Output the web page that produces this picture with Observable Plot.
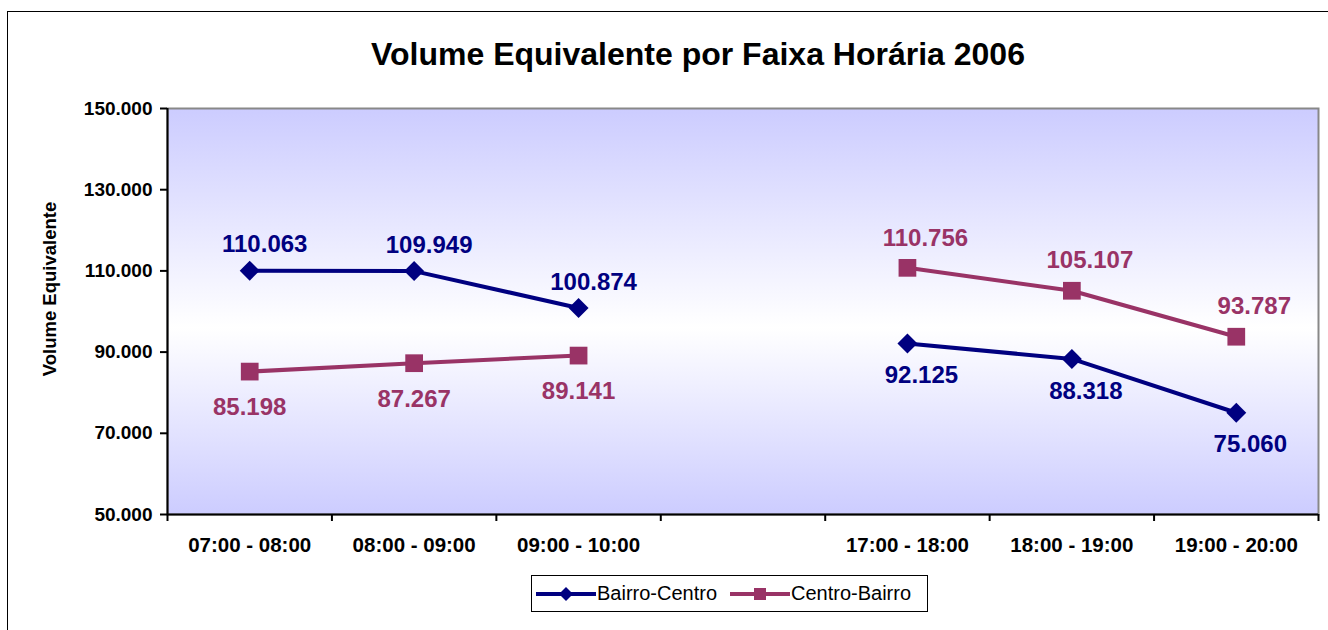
<!DOCTYPE html>
<html>
<head>
<meta charset="utf-8">
<script src="https://cdn.jsdelivr.net/npm/d3@7"></script>
<script src="https://cdn.jsdelivr.net/npm/@observablehq/plot@0.6"></script>
<style>
  html, body { margin: 0; padding: 0; background: #fff; }
  #wrap { position: relative; width: 1328px; height: 630px; overflow: hidden; font-family: Arial, "Liberation Sans", sans-serif; }
  #border { position: absolute; left: 7px; top: 11px; width: 3000px; height: 3000px; border-left: 1.5px solid #000; border-top: 1.5px solid #000; }
  #title { position: absolute; left: 0; top: 38px; width: 1396px; text-align: center; font-size: 32px; line-height: 32px; font-weight: bold; color: #000; }
  #ytitle { position: absolute; left: 50px; top: 289px; transform: translate(-50%, -50%) rotate(-90deg); white-space: nowrap; font-size: 18.5px; line-height: 18px; font-weight: bold; color: #000; }
  #chart { position: absolute; left: 0; top: 0; }
  #legend { position: absolute; left: 531px; top: 575px; width: 395px; height: 35px; border: 1.5px solid #000; background: #fff; box-sizing: content-box; }
  .item { position: absolute; top: 0; height: 35px; display: flex; align-items: center; font-size: 20px; color: #000; }
  .item svg { margin-right: 1px; }
</style>
</head>
<body>
<div id="wrap">
  <div id="border"></div>
  <div id="chart"></div>
  <div id="title">Volume Equivalente por Faixa Horária 2006</div>
  <div id="ytitle">Volume Equivalente</div>
  <div id="legend"></div>
</div>
<script>
// ---- data ----
const categories = ["07:00 - 08:00", "08:00 - 09:00", "09:00 - 10:00", "", "17:00 - 18:00", "18:00 - 19:00", "19:00 - 20:00"];
const seriesNames = ["Bairro-Centro", "Centro-Bairro"];
const bairroCentro = [110063, 109949, 100874, null, 92125, 88318, 75060];
const centroBairro = [85198, 87267, 89141, null, 110756, 105107, 93787];
const yTicks = [50000, 70000, 90000, 110000, 130000, 150000];

// ---- styles ----
const colors = {"Bairro-Centro": "#000080", "Centro-Bairro": "#993366"};
const loc = d3.formatLocale({decimal: ",", thousands: ".", grouping: [3], currency: ["", ""]});
const fmt = loc.format(",.0f");

const idx = categories.map((c, i) => i);
const rowsBC = idx.map(i => ({i, series: "Bairro-Centro", value: bairroCentro[i]}));
const rowsCB = idx.map(i => ({i, series: "Centro-Bairro", value: centroBairro[i]}));
const valid = r => r.value != null;
const morning = i => i < 3;

// label placement: BC above in morning, below in afternoon; CB opposite
const bcAbove = rowsBC.filter(r => valid(r) && morning(r.i));
const bcBelow = rowsBC.filter(r => valid(r) && !morning(r.i));
const cbBelow = rowsCB.filter(r => valid(r) && morning(r.i));
const cbAbove = rowsCB.filter(r => valid(r) && !morning(r.i));

const boundaries = d3.range(categories.length + 1).map(k => k - 0.5);
const labelTicks = idx.filter(i => categories[i] !== "");

const labelOpts = {x: "i", y: "value", text: d => fmt(d.value), fontSize: 24, fontWeight: "bold"};

const plot = Plot.plot({
  width: 1328,
  height: 630,
  marginLeft: 167,
  marginRight: 10,
  marginTop: 108,
  marginBottom: 116,
  style: {fontFamily: "Arial, 'Liberation Sans', sans-serif", fontWeight: "bold", fontSize: "18px", color: "#000", background: "transparent"},
  x: {type: "linear", domain: [-0.5, categories.length - 0.5]},
  y: {domain: [50000, 150000]},
  marks: [
    Plot.frame({fill: "url(#bgGrad)", stroke: "#888888", strokeWidth: 2}),
    Plot.ruleX([-0.5], {stroke: "#000", strokeWidth: 2}),
    Plot.ruleY([50000], {stroke: "#000", strokeWidth: 2}),
    Plot.axisY({ticks: yTicks, tickFormat: fmt, tickSize: 7, tickPadding: 8, fontSize: 19, strokeWidth: 2, label: null, fill: "#000"}),
    Plot.axisX({ticks: boundaries, tickFormat: () => "", tickSize: 7, strokeWidth: 2, label: null}),
    Plot.axisX({ticks: labelTicks, tickFormat: i => categories[i], tickSize: 0, tickPadding: 23, fontSize: 20.5, label: null, fill: "#000"}),
    Plot.line(rowsBC, {x: "i", y: "value", stroke: colors["Bairro-Centro"], strokeWidth: 4}),
    Plot.line(rowsCB, {x: "i", y: "value", stroke: colors["Centro-Bairro"], strokeWidth: 4}),
    Plot.dot(rowsBC.filter(valid), {x: "i", y: "value", symbol: "diamond2", r: 9, fill: colors["Bairro-Centro"], stroke: "none"}),
    Plot.dot(rowsCB.filter(valid), {x: "i", y: "value", symbol: "square", r: 10, fill: colors["Centro-Bairro"], stroke: "none"}),
    Plot.text(bcAbove, {...labelOpts, fill: colors["Bairro-Centro"], dx: 15, dy: -26}),
    Plot.text(bcBelow, {...labelOpts, fill: colors["Bairro-Centro"], dx: 14, dy: 32}),
    Plot.text(cbBelow, {...labelOpts, fill: colors["Centro-Bairro"], dx: 0, dy: 36}),
    Plot.text(cbAbove, {...labelOpts, fill: colors["Centro-Bairro"], dx: 18, dy: -30})
  ]
});

plot.insertAdjacentHTML("afterbegin",
  '<defs><linearGradient id="bgGrad" x1="0" y1="0" x2="0" y2="1">' +
  '<stop offset="0" stop-color="#ccccff"/>' +
  '<stop offset="0.54" stop-color="#ffffff"/>' +
  '<stop offset="1" stop-color="#ccccff"/>' +
  '</linearGradient></defs>');
document.getElementById("chart").appendChild(plot);

// ---- legend ----
const legend = document.getElementById("legend");
const itemLeft = {"Bairro-Centro": 4, "Centro-Bairro": 198};
seriesNames.forEach(name => {
  const c = colors[name];
  const marker = name === "Bairro-Centro"
    ? `<path d="M30,11 L37,18 L30,25 L23,18 Z" fill="${c}"/>`
    : `<rect x="24" y="12" width="12" height="12" fill="${c}"/>`;
  const div = document.createElement("div");
  div.className = "item";
  div.style.left = itemLeft[name] + "px";
  div.innerHTML = `<svg width="60" height="35"><line x1="0" y1="18" x2="60" y2="18" stroke="${c}" stroke-width="4"/>${marker}</svg><span>${name}</span>`;
  legend.appendChild(div);
});
</script>
</body>
</html>
